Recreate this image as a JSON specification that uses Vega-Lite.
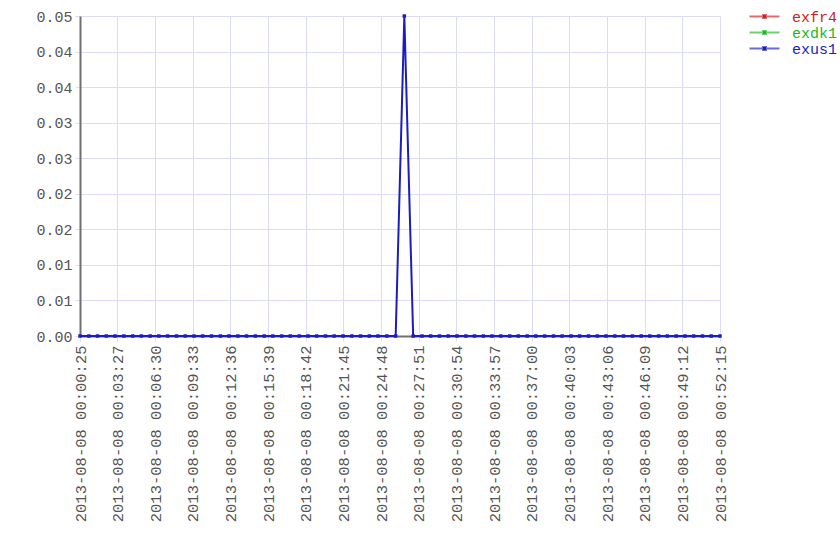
{
  "$schema": "https://vega.github.io/schema/vega-lite/v6.json",
  "width": 640,
  "height": 320,
  "autosize": {"type": "none"},
  "padding": {"left": 80, "top": 16, "right": 120, "bottom": 224},
  "background": "white",
  "config": {"view": {"stroke": null}, "font": "Liberation Mono"},
  "data": {"values": [
    {"t":"2013-08-08 00:00:25","exfr4":null,"exdk1":null,"exus1":0},
    {"t":"2013-08-08 00:01:08","exfr4":null,"exdk1":null,"exus1":0},
    {"t":"2013-08-08 00:01:50","exfr4":null,"exdk1":null,"exus1":0},
    {"t":"2013-08-08 00:02:33","exfr4":null,"exdk1":null,"exus1":0},
    {"t":"2013-08-08 00:03:15","exfr4":null,"exdk1":null,"exus1":0},
    {"t":"2013-08-08 00:03:58","exfr4":null,"exdk1":null,"exus1":0},
    {"t":"2013-08-08 00:04:41","exfr4":null,"exdk1":null,"exus1":0},
    {"t":"2013-08-08 00:05:23","exfr4":null,"exdk1":null,"exus1":0},
    {"t":"2013-08-08 00:06:06","exfr4":null,"exdk1":null,"exus1":0},
    {"t":"2013-08-08 00:06:48","exfr4":null,"exdk1":null,"exus1":0},
    {"t":"2013-08-08 00:07:31","exfr4":null,"exdk1":null,"exus1":0},
    {"t":"2013-08-08 00:08:14","exfr4":null,"exdk1":null,"exus1":0},
    {"t":"2013-08-08 00:08:56","exfr4":null,"exdk1":null,"exus1":0},
    {"t":"2013-08-08 00:09:39","exfr4":null,"exdk1":null,"exus1":0},
    {"t":"2013-08-08 00:10:21","exfr4":null,"exdk1":null,"exus1":0},
    {"t":"2013-08-08 00:11:04","exfr4":null,"exdk1":null,"exus1":0},
    {"t":"2013-08-08 00:11:47","exfr4":null,"exdk1":null,"exus1":0},
    {"t":"2013-08-08 00:12:29","exfr4":null,"exdk1":null,"exus1":0},
    {"t":"2013-08-08 00:13:12","exfr4":null,"exdk1":null,"exus1":0},
    {"t":"2013-08-08 00:13:54","exfr4":null,"exdk1":null,"exus1":0},
    {"t":"2013-08-08 00:14:37","exfr4":null,"exdk1":null,"exus1":0},
    {"t":"2013-08-08 00:15:20","exfr4":null,"exdk1":null,"exus1":0},
    {"t":"2013-08-08 00:16:02","exfr4":null,"exdk1":null,"exus1":0},
    {"t":"2013-08-08 00:16:45","exfr4":null,"exdk1":null,"exus1":0},
    {"t":"2013-08-08 00:17:27","exfr4":null,"exdk1":null,"exus1":0},
    {"t":"2013-08-08 00:18:10","exfr4":null,"exdk1":null,"exus1":0},
    {"t":"2013-08-08 00:18:53","exfr4":null,"exdk1":null,"exus1":0},
    {"t":"2013-08-08 00:19:35","exfr4":null,"exdk1":null,"exus1":0},
    {"t":"2013-08-08 00:20:18","exfr4":null,"exdk1":null,"exus1":0},
    {"t":"2013-08-08 00:21:00","exfr4":null,"exdk1":null,"exus1":0},
    {"t":"2013-08-08 00:21:43","exfr4":null,"exdk1":null,"exus1":0},
    {"t":"2013-08-08 00:22:26","exfr4":null,"exdk1":null,"exus1":0},
    {"t":"2013-08-08 00:23:08","exfr4":null,"exdk1":null,"exus1":0},
    {"t":"2013-08-08 00:23:51","exfr4":null,"exdk1":null,"exus1":0},
    {"t":"2013-08-08 00:24:33","exfr4":null,"exdk1":null,"exus1":0},
    {"t":"2013-08-08 00:25:16","exfr4":null,"exdk1":null,"exus1":0},
    {"t":"2013-08-08 00:25:59","exfr4":null,"exdk1":null,"exus1":0},
    {"t":"2013-08-08 00:26:41","exfr4":null,"exdk1":null,"exus1":0.05},
    {"t":"2013-08-08 00:27:24","exfr4":null,"exdk1":null,"exus1":0},
    {"t":"2013-08-08 00:28:07","exfr4":null,"exdk1":null,"exus1":0},
    {"t":"2013-08-08 00:28:49","exfr4":null,"exdk1":null,"exus1":0},
    {"t":"2013-08-08 00:29:32","exfr4":null,"exdk1":null,"exus1":0},
    {"t":"2013-08-08 00:30:14","exfr4":null,"exdk1":null,"exus1":0},
    {"t":"2013-08-08 00:30:57","exfr4":null,"exdk1":null,"exus1":0},
    {"t":"2013-08-08 00:31:40","exfr4":null,"exdk1":null,"exus1":0},
    {"t":"2013-08-08 00:32:22","exfr4":null,"exdk1":null,"exus1":0},
    {"t":"2013-08-08 00:33:05","exfr4":null,"exdk1":null,"exus1":0},
    {"t":"2013-08-08 00:33:47","exfr4":null,"exdk1":null,"exus1":0},
    {"t":"2013-08-08 00:34:30","exfr4":null,"exdk1":null,"exus1":0},
    {"t":"2013-08-08 00:35:13","exfr4":null,"exdk1":null,"exus1":0},
    {"t":"2013-08-08 00:35:55","exfr4":null,"exdk1":null,"exus1":0},
    {"t":"2013-08-08 00:36:38","exfr4":null,"exdk1":null,"exus1":0},
    {"t":"2013-08-08 00:37:20","exfr4":null,"exdk1":null,"exus1":0},
    {"t":"2013-08-08 00:38:03","exfr4":null,"exdk1":null,"exus1":0},
    {"t":"2013-08-08 00:38:46","exfr4":null,"exdk1":null,"exus1":0},
    {"t":"2013-08-08 00:39:28","exfr4":null,"exdk1":null,"exus1":0},
    {"t":"2013-08-08 00:40:11","exfr4":null,"exdk1":null,"exus1":0},
    {"t":"2013-08-08 00:40:53","exfr4":null,"exdk1":null,"exus1":0},
    {"t":"2013-08-08 00:41:36","exfr4":null,"exdk1":null,"exus1":0},
    {"t":"2013-08-08 00:42:19","exfr4":null,"exdk1":null,"exus1":0},
    {"t":"2013-08-08 00:43:01","exfr4":null,"exdk1":null,"exus1":0},
    {"t":"2013-08-08 00:43:44","exfr4":null,"exdk1":null,"exus1":0},
    {"t":"2013-08-08 00:44:26","exfr4":null,"exdk1":null,"exus1":0},
    {"t":"2013-08-08 00:45:09","exfr4":null,"exdk1":null,"exus1":0},
    {"t":"2013-08-08 00:45:52","exfr4":null,"exdk1":null,"exus1":0},
    {"t":"2013-08-08 00:46:34","exfr4":null,"exdk1":null,"exus1":0},
    {"t":"2013-08-08 00:47:17","exfr4":null,"exdk1":null,"exus1":0},
    {"t":"2013-08-08 00:47:59","exfr4":null,"exdk1":null,"exus1":0},
    {"t":"2013-08-08 00:48:42","exfr4":null,"exdk1":null,"exus1":0},
    {"t":"2013-08-08 00:49:25","exfr4":null,"exdk1":null,"exus1":0},
    {"t":"2013-08-08 00:50:07","exfr4":null,"exdk1":null,"exus1":0},
    {"t":"2013-08-08 00:50:50","exfr4":null,"exdk1":null,"exus1":0},
    {"t":"2013-08-08 00:51:32","exfr4":null,"exdk1":null,"exus1":0},
    {"t":"2013-08-08 00:52:15","exfr4":null,"exdk1":null,"exus1":0}
  ]},
  "transform": [
    {"fold": ["exfr4", "exdk1", "exus1"], "as": ["series", "value"]},
    {"filter": "isValid(datum.value)"}
  ],
  "mark": {"type": "line", "strokeWidth": 2, "point": {"filled": true, "size": 12, "shape": "square"}},
  "encoding": {
    "x": {
      "field": "t", "type": "temporal",
      "scale": {"domain": [
        {"year": 2013, "month": 8, "date": 8, "hours": 0, "minutes": 0, "seconds": 25},
        {"year": 2013, "month": 8, "date": 8, "hours": 0, "minutes": 52, "seconds": 15}
      ], "nice": false},
      "axis": {
        "title": null,
        "format": "%Y-%m-%d %H:%M:%S",
        "labelAngle": 270,
        "labelFont": "Liberation Mono",
        "labelFontSize": 15.5,
        "labelColor": "#555555",
        "labelPadding": 4,
        "labelFlush": false,
        "labelOverlap": false,
        "tickSize": 5,
        "tickColor": "#dcdcfa",
        "gridColor": "#dcdcfa",
        "gridOpacity": 1,
        "domainColor": "#707070",
        "domainWidth": 2,
        "values": [
          {"year": 2013, "month": 8, "date": 8, "hours": 0, "minutes": 0, "seconds": 25},
          {"year": 2013, "month": 8, "date": 8, "hours": 0, "minutes": 3, "seconds": 27},
          {"year": 2013, "month": 8, "date": 8, "hours": 0, "minutes": 6, "seconds": 30},
          {"year": 2013, "month": 8, "date": 8, "hours": 0, "minutes": 9, "seconds": 33},
          {"year": 2013, "month": 8, "date": 8, "hours": 0, "minutes": 12, "seconds": 36},
          {"year": 2013, "month": 8, "date": 8, "hours": 0, "minutes": 15, "seconds": 39},
          {"year": 2013, "month": 8, "date": 8, "hours": 0, "minutes": 18, "seconds": 42},
          {"year": 2013, "month": 8, "date": 8, "hours": 0, "minutes": 21, "seconds": 45},
          {"year": 2013, "month": 8, "date": 8, "hours": 0, "minutes": 24, "seconds": 48},
          {"year": 2013, "month": 8, "date": 8, "hours": 0, "minutes": 27, "seconds": 51},
          {"year": 2013, "month": 8, "date": 8, "hours": 0, "minutes": 30, "seconds": 54},
          {"year": 2013, "month": 8, "date": 8, "hours": 0, "minutes": 33, "seconds": 57},
          {"year": 2013, "month": 8, "date": 8, "hours": 0, "minutes": 37, "seconds": 0},
          {"year": 2013, "month": 8, "date": 8, "hours": 0, "minutes": 40, "seconds": 3},
          {"year": 2013, "month": 8, "date": 8, "hours": 0, "minutes": 43, "seconds": 6},
          {"year": 2013, "month": 8, "date": 8, "hours": 0, "minutes": 46, "seconds": 9},
          {"year": 2013, "month": 8, "date": 8, "hours": 0, "minutes": 49, "seconds": 12},
          {"year": 2013, "month": 8, "date": 8, "hours": 0, "minutes": 52, "seconds": 15}
        ]
      }
    },
    "y": {
      "field": "value", "type": "quantitative",
      "scale": {"domain": [0, 0.05], "nice": false, "zero": true},
      "axis": {
        "title": null,
        "format": ".2f",
        "values": [0, 0.0055556, 0.0111111, 0.0166667, 0.0222222, 0.0277778, 0.0333333, 0.0388889, 0.0444444, 0.05],
        "labelFont": "Liberation Mono",
        "labelFontSize": 15,
        "labelColor": "#555555",
        "labelPadding": 3,
        "labelFlush": false,
        "labelOverlap": false,
        "tickSize": 5,
        "tickColor": "#dcdcfa",
        "gridColor": "#dcdcfa",
        "gridOpacity": 1,
        "domainColor": "#707070",
        "domainWidth": 2
      }
    },
    "color": {
      "field": "series", "type": "nominal",
      "scale": {"domain": ["exfr4", "exdk1", "exus1"], "range": ["#d01c1c", "#1cb81c", "#1c1cc0"]},
      "legend": {
        "title": null,
        "orient": "none",
        "legendX": 677,
        "legendY": -7,
        "symbolType": "M-3,0H3M-0.3,-0.3H0.3V0.3H-0.3Z",
        "symbolSize": 100,
        "symbolStrokeWidth": 2,
        "labelOffset": 20,
        "labelFont": "Liberation Mono",
        "labelFontSize": 15,
        "rowPadding": 0,
        "encode": {
          "labels": {"update": {"fill": {"scale": "color", "field": "value"}}},
          "symbols": {"update": {"fill": {"scale": "color", "field": "value"}, "strokeOpacity": {"value": 0.65}}}
        }
      }
    }
  }
}
